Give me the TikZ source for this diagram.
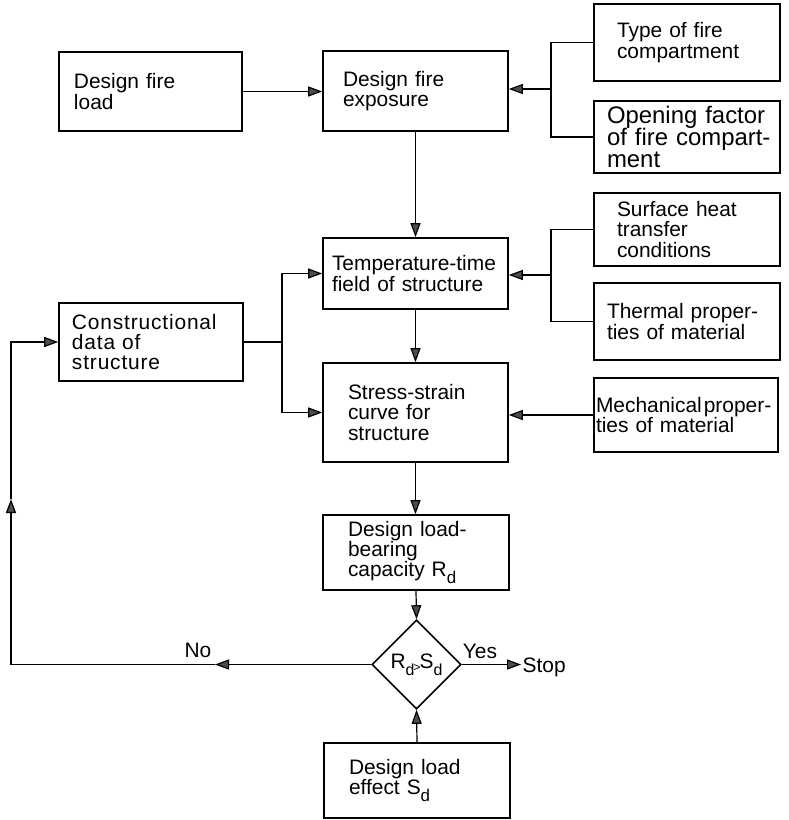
\documentclass[tikz,border=0pt]{standalone}
\usepackage{fontspec}
\setmainfont{Liberation Sans}
\usetikzlibrary{arrows.meta,shapes.geometric}
\newcommand\subd{\raisebox{-7bp}{\fontsize{17}{17}\selectfont d}}
\newcommand\subdd{\raisebox{-7bp}{\fontsize{16}{16}\selectfont d}}
\begin{document}
\begin{tikzpicture}[x=1bp,y=-1bp, line width=1.2bp,
  blk/.style={draw, line width=1.6bp, align=left, font=\fontsize{21}{20.5}\selectfont, inner ysep=2bp},
  arr/.style={-{Triangle[length=14bp,width=10bp,fill=black!70]}},
  lbl/.style={font=\fontsize{21}{20.5}\selectfont, inner sep=1bp}]

\useasboundingbox (0,0) rectangle (789,820);

% boxes
\node[blk, text width=153bp, inner xsep=15bp, minimum height=79bp] (load) at (150.5,91.5) {Design fire\\load};
\node[blk, text width=145bp, inner xsep=20bp, minimum height=80bp] (expo) at (415.5,91) {Design fire\\exposure};
\node[blk, text width=140bp, inner xsep=23bp, minimum height=77bp] (type) at (687,42.5) {Type of fire\\compartment};
\node[blk, text width=160bp, inner xsep=13bp, minimum height=72bp, font=\fontsize{24}{22.5}\selectfont] (open) at (687,137) {\mbox{Opening factor}\\\mbox{of fire compart-}\\ment};
\node[blk, text width=167bp, inner xsep=9bp, minimum height=71bp] (temp) at (415.5,273.5) {\mbox{Temperature-time}\\field of structure};
\node[blk, text width=140bp, inner xsep=23bp, minimum height=73bp] (surf) at (687,229.5) {Surface heat\\transfer\\conditions};
\node[blk, text width=160bp, inner xsep=13bp, minimum height=77bp] (therm) at (687,321.5) {\mbox{Thermal proper-}\\ties of material};
\node[blk, text width=158bp, inner xsep=13bp, minimum height=78bp] (constr) at (151,342) {\addfontfeatures{LetterSpace=4}Constructional\\data of\\structure};
\node[blk, text width=135bp, inner xsep=25bp, minimum height=99bp] (stress) at (415.5,412.5) {Stress-strain\\curve for\\structure};
\node[blk, text width=180bp, inner xsep=2bp, minimum height=74bp] (mech) at (686,415) {\mbox{Mechanical\hspace{2bp}proper-}\\ties of material};
\node[blk, text width=136bp, inner xsep=25bp, minimum height=75bp] (cap) at (416,552.5) {Design load-\\bearing\\capacity R\subd};
\node[blk, diamond, align=center, inner sep=0pt, minimum width=89bp, minimum height=89bp] (dia) at (416.5,664.5) {R\subdd\hspace{-1bp}\raisebox{-3bp}{\fontsize{12}{12}\selectfont >}\hspace{-1bp}S\subdd};
\node[blk, text width=136bp, inner xsep=25bp, minimum height=75bp] (eff) at (417,780.5) {Design load\\effect S\subd};

% labels
\node[lbl, anchor=west] (stop) at (521,667) {Stop};
\node[lbl] (yes) at (480,651.5) {Yes};
\node[lbl] (no) at (198,650) {No};

% connectors
\draw[arr] (load.east) -- (load.east -| expo.west);

\coordinate (j1) at (551,89);
\draw (type.west) -| (j1) |- (open.west);
\draw[arr] (j1) -- (j1 -| expo.east);

\draw[arr] (expo.south) -- (temp.north);

\coordinate (j2) at (551,275);
\draw (surf.west) -| (j2) |- (therm.west);
\draw[arr] (j2) -- (j2 -| temp.east);

\draw[arr] (temp.south) -- (stress.north);
\draw[arr] (mech.west) -- (mech.west -| stress.east);

\coordinate (j3) at (282,342);
\draw (constr.east) -- (j3);
\draw[arr] (j3) |- (temp.west);
\draw[arr] (j3) |- (stress.west);

\draw[arr] (stress.south) -- (stress.south |- cap.north);
\draw[arr] (cap.south) -- (dia.north);
\draw[arr] (eff.north) -- (dia.south);
\draw[arr] (dia.east) -- (dia.east -| stop.west);

\coordinate (c1) at (215,664.5);
\coordinate (c2) at (11,664.5);
\coordinate (c3) at (11,499);
\draw[arr] (dia.west) -- (c1);
\draw (c1) -- (c2);
\draw[arr] (c2) -- (c3);
\draw[arr] (c3) |- (constr.west);
\end{tikzpicture}
\end{document}
